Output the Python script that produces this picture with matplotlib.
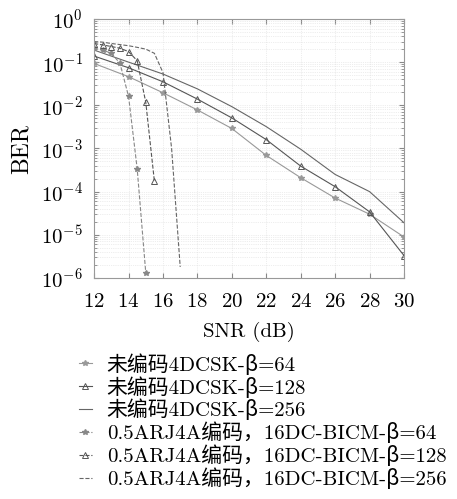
import numpy as np
import matplotlib
matplotlib.use("Agg")
import matplotlib.pyplot as plt

plt.rcParams['font.family'] = ['cmr10', 'Noto Sans CJK SC', 'DejaVu Sans']
plt.rcParams['mathtext.fontset'] = 'cm'
plt.rcParams['axes.formatter.use_mathtext'] = True

# uncoded 4DCSK
snr_u = [12, 14, 16, 18, 20, 22, 24, 26, 28, 30]
ber_u64 = [0.093, 0.046, 0.0195, 0.0078, 0.0029, 6.9e-4, 2.1e-4, 7.1e-5, 3.0e-5, 8.9e-6]
ber_u128 = [0.138, 0.074, 0.035, 0.0139, 0.0051, 0.0016, 3.9e-4, 1.3e-4, 3.4e-5, 3.3e-6]
ber_u256 = [0.19, 0.10, 0.053, 0.024, 0.0093, 0.0032, 9.6e-4, 2.5e-4, 1.0e-4, 1.9e-5]

# 0.5 ARJ4A coded 16DC-BICM
snr_c64 = [12, 12.5, 13, 13.5, 14, 14.5, 15]
ber_c64 = [0.21, 0.19, 0.16, 0.094, 0.016, 3.4e-4, 1.3e-6]
snr_c128 = [12, 12.5, 13, 13.5, 14, 14.5, 15, 15.5]
ber_c128 = [0.27, 0.25, 0.23, 0.21, 0.175, 0.108, 0.0117, 1.74e-4]
snr_c256 = [12, 12.5, 13, 13.5, 14, 14.5, 15, 15.5, 16, 16.5, 17]
ber_c256 = [0.30, 0.29, 0.27, 0.255, 0.24, 0.22, 0.20, 0.16, 0.057, 1.0e-3, 1.8e-6]

labels = ['未编码4DCSK-β=64', '未编码4DCSK-β=128', '未编码4DCSK-β=256',
          '0.5ARJ4A编码，16DC-BICM-β=64', '0.5ARJ4A编码，16DC-BICM-β=128',
          '0.5ARJ4A编码，16DC-BICM-β=256']

fig = plt.figure(figsize=(4.57, 4.99), dpi=100)
ax = fig.add_axes([0.206, 0.443, 0.678, 0.519])

ax.semilogy(snr_u, ber_u64, '-', color='#999999', lw=0.8, marker='*', ms=4, label=labels[0])
ax.semilogy(snr_u, ber_u128, '-', color='#555555', lw=0.8, marker='^', ms=4.5, mfc='none', mew=0.7, label=labels[1])
ax.semilogy(snr_u, ber_u256, '-', color='#666666', lw=0.8, label=labels[2])
ax.semilogy(snr_c64, ber_c64, '--', color='#888888', lw=0.8, marker='*', ms=4, label=labels[3])
ax.semilogy(snr_c128, ber_c128, '--', color='#555555', lw=0.8, marker='^', ms=4.5, mfc='none', mew=0.7, label=labels[4])
ax.semilogy(snr_c256, ber_c256, '--', color='#666666', lw=0.8, label=labels[5])

ax.set_xlim(12, 30)
ax.set_ylim(1e-6, 1)
ax.set_xticks(np.arange(12, 31, 2))
ax.grid(which='both', ls=':', color='#dddddd', lw=0.5)
ax.tick_params(which='both', direction='in', top=True, right=True, labelsize=15, color='#888888')
ax.tick_params(axis='x', pad=11)
ax.tick_params(axis='y', pad=8)
for s in ax.spines.values():
    s.set_color('#999999')
    s.set_linewidth(0.8)

ax.set_xlabel('SNR (dB)', fontsize=15, labelpad=8)
ax.set_ylabel('BER', fontsize=17, labelpad=6)

ax.legend(loc='upper left', bbox_to_anchor=(-0.05, -0.29), frameon=False, fontsize=15,
          handlelength=0.65, handletextpad=0.7, labelspacing=0.06, borderaxespad=0,
          borderpad=0)

fig.savefig('out.png', dpi=100)
